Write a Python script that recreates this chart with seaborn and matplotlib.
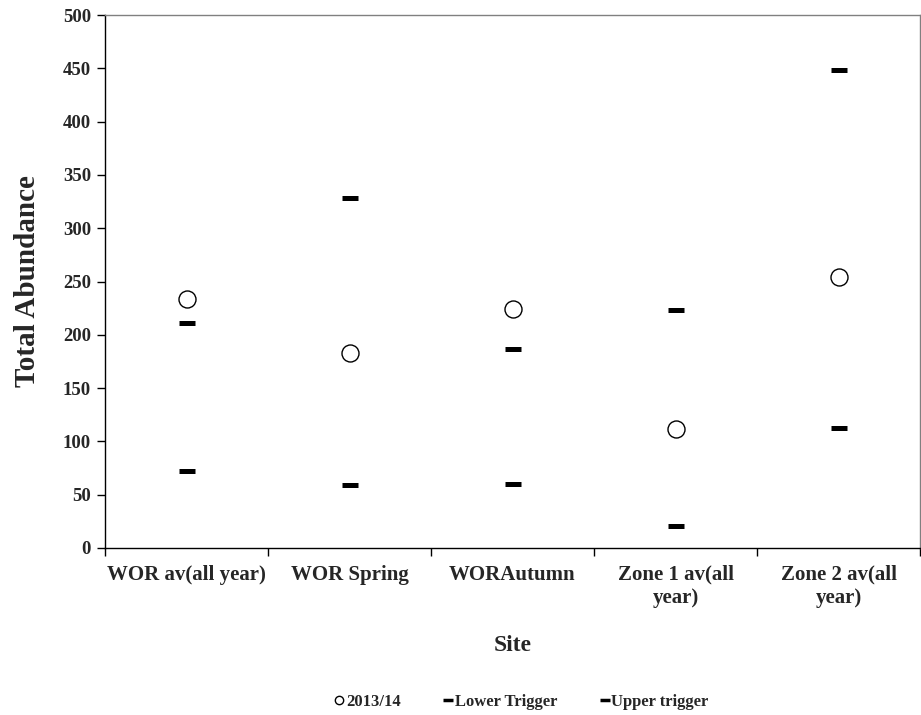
import matplotlib
matplotlib.use("Agg")
import matplotlib.pyplot as plt
import seaborn as sns
import pandas as pd
from matplotlib.lines import Line2D

sites = ["WOR av(all year)", "WOR Spring", "WORAutumn", "Zone 1 av(all\nyear)", "Zone 2 av(all\nyear)"]
obs_2013 = [234, 183, 224, 112, 254]
lower_trigger = [72, 59, 60, 21, 113]
upper_trigger = [211, 328, 187, 223, 448]

sns.set_theme(style="white")
plt.rcParams['font.family'] = ['Liberation Serif', 'DejaVu Serif']
plt.rcParams['font.weight'] = 'bold'

df = pd.DataFrame({"Site": sites, "2013/14": obs_2013,
                   "Lower Trigger": lower_trigger, "Upper trigger": upper_trigger})
df["pos"] = range(len(sites))

fig = plt.figure(figsize=(9.21, 7.15), dpi=100)
ax = fig.add_axes([105/921, 1-548/715, (920-105)/921, (548-15)/715])

sns.scatterplot(data=df, x="pos", y="Lower Trigger", marker="_", s=135, linewidth=3.6,
                color="black", ax=ax, legend=False)
sns.scatterplot(data=df, x="pos", y="Upper trigger", marker="_", s=135, linewidth=3.6,
                color="black", ax=ax, legend=False)
sns.scatterplot(data=df, x="pos", y="2013/14", marker="o", s=150, facecolor="white",
                edgecolor="black", linewidth=1, ax=ax, legend=False)

ax.set_xlim(-0.5, len(sites) - 0.5)
ax.set_ylim(0, 500)
ax.set_yticks(range(0, 501, 50))
ax.set_yticklabels([str(v) for v in range(0, 501, 50)], fontsize=13.5, fontweight='bold')
ax.set_xticks([i for i in range(len(sites))])
ax.set_xticklabels(sites, fontsize=15, fontweight='bold')
ax.tick_params(axis='x', length=0, pad=12)
ax.set_xticks([i - 0.5 for i in range(len(sites) + 1)], minor=True)
ax.tick_params(axis='x', which='minor', length=6, width=1, color='black', direction='out', bottom=True)
ax.tick_params(axis='y', length=6, width=1, color='black', direction='out', left=True, pad=4)

for s in ["left", "bottom"]:
    ax.spines[s].set_color("black")
    ax.spines[s].set_linewidth(1)
for s in ["top", "right"]:
    ax.spines[s].set_color("#808080")
    ax.spines[s].set_linewidth(1)

ax.set_xlabel("Site", fontsize=17, fontweight='bold', labelpad=20)
ax.set_ylabel("Total Abundance", fontsize=21, fontweight='bold', labelpad=16)

handles = [
    Line2D([], [], marker='o', linestyle='none', markerfacecolor='white', markeredgecolor='black', markersize=6, markeredgewidth=1),
    Line2D([], [], marker='_', linestyle='none', color='black', markersize=7, markeredgewidth=2.5),
    Line2D([], [], marker='_', linestyle='none', color='black', markersize=7, markeredgewidth=2.5),
]
fig.legend(handles, ["2013/14", "Lower Trigger", "Upper trigger"], loc='center',
           bbox_to_anchor=(522/921, 1-702/715), ncol=3, frameon=False,
           prop={'family': 'Liberation Serif', 'weight': 'bold', 'size': 12},
           handlelength=0.5, handletextpad=0.15, columnspacing=2.6)

fig.savefig("out.png", dpi=100)
